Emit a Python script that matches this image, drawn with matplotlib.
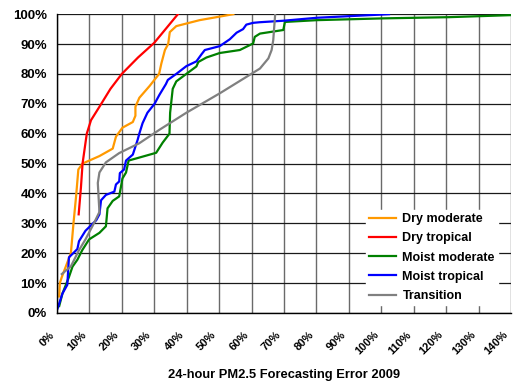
import matplotlib
matplotlib.use("Agg")
import matplotlib.pyplot as plt
from matplotlib.transforms import ScaledTranslation

plt.rcParams["font.family"] = ["Liberation Sans", "DejaVu Sans"]
plt.rcParams["font.weight"] = "bold"

# cumulative share of days (%) vs forecasting error (%)
dry_mod_x = [0.7, 0.9, 1.5, 4.3, 5.1, 5.9, 6.6, 7.9, 13.1, 17.2, 18.2, 20.2, 23.4,
             24.2, 24.2, 25.4, 28.6, 31.5, 32.2, 33.3, 34.3, 34.8, 36.8, 44.0, 54.4]
dry_mod_y = [5.5, 10, 12, 20, 30, 39, 48, 50, 52.5, 55, 59, 62, 63.9,
             66, 69, 72, 76, 80, 83.5, 88, 90, 94, 96, 98, 100]

dry_trop_x = [6.7, 7.4, 7.9, 9.2, 10.5, 13.1, 16.5, 20.0, 25.0, 30.0, 37.3]
dry_trop_y = [33, 42, 50, 60, 64.5, 69, 75, 80, 85.5, 90.4, 100]

moist_mod_x = [0.7, 1.7, 3.7, 4.8, 6.3, 7.8, 9.9, 13.1, 15.1, 15.6, 17.2, 19.2,
               20.2, 21.3, 22.1, 25.4, 30.6, 32.6, 34.7, 34.9, 35.7, 36.8, 39.9,
               43.0, 43.6, 46.1, 50.2, 56.4, 60.5, 61.0, 62.6, 69.8, 70.3, 80.2,
               100.8, 121.0, 140.6]
moist_mod_y = [2.3, 6.5, 12, 15.5, 17.8, 21, 24.6, 26.8, 29, 35, 37.5, 39,
               45, 47, 51, 52, 53.6, 57, 60, 67, 75, 77.5, 80,
               82.5, 84, 85.5, 87, 88, 90.2, 92.4, 93.5, 94.7, 97.4, 98,
               98.6, 99, 99.7]

moist_trop_x = [0.2, 1.7, 3.2, 3.7, 5.3, 6.3, 6.8, 8.8, 12.1, 13.1, 13.6, 15.1,
                17.7, 18.2, 19.2, 19.4, 20.7, 21.3, 23.4, 24.9, 25.4, 26.4, 27.9,
                30.1, 31.6, 33.6, 34.2, 36.8, 39.9, 43.0, 44.6, 45.6, 50.2, 53.3,
                55.4, 57.4, 58.4, 60.5, 62.5, 69.8, 80.2, 102.4]
moist_trop_y = [1.5, 6.5, 9.4, 18.6, 20.3, 21.4, 24, 27.5, 31, 33, 37.7, 39.5,
                40.6, 43, 44, 46.8, 48, 51, 53, 58, 60, 63.5, 67,
                70, 73, 76.6, 78, 80, 82.6, 84.2, 86.6, 88, 89.3, 91.6,
                93.8, 95, 96.5, 97.1, 97.3, 97.8, 98.8, 100]

trans_x = [1.5, 4.3, 6.8, 8.8, 11.4, 13.1, 12.9, 12.6, 13.1, 15.1, 19.2, 25.4,
           31.6, 39.9, 50.2, 62.6, 65.2, 66.2, 66.7, 67.0, 67.3]
trans_y = [13, 15.6, 21, 24.6, 30, 33.8, 37.6, 43.5, 47, 50.4, 53.5, 56.8,
           61.3, 67, 73.5, 81.8, 85.2, 88, 91.3, 95.7, 100]

series = [
    ("Dry moderate", dry_mod_x, dry_mod_y, "#FF9900"),
    ("Dry tropical", dry_trop_x, dry_trop_y, "#FF0000"),
    ("Moist moderate", moist_mod_x, moist_mod_y, "#008000"),
    ("Moist tropical", moist_trop_x, moist_trop_y, "#0000FF"),
    ("Transition", trans_x, trans_y, "#808080"),
]

x_ticks = list(range(0, 150, 10))
y_ticks = list(range(0, 110, 10))

fig = plt.figure(figsize=(5.13, 3.83), dpi=100)
ax = fig.add_axes([0.111, 0.183, 0.885, 0.780])

for x in x_ticks:
    ax.axvline(x, color="#6a6a6a", lw=1.0, zorder=0)
for y in y_ticks:
    ax.axhline(y, color="#1a1a1a", lw=0.9, zorder=0)

for name, xs, ys, col in series:
    ax.plot(xs, ys, color=col, lw=1.6, label=name)

ax.set_xlim(0, 140)
ax.set_ylim(0, 100)
ax.set_xticks(x_ticks)
ax.set_yticks(y_ticks)
ax.set_xticklabels([f"{v}%" for v in x_ticks], rotation=45, ha="right",
                   rotation_mode="anchor", fontsize=8, fontweight="bold")
ax.set_yticklabels([f"{v}%" for v in y_ticks], fontsize=9.5, fontweight="bold")
ax.tick_params(length=0, pad=7)
ax.tick_params(axis="x", pad=12)
shift = ScaledTranslation(-8 / 100, 0, fig.dpi_scale_trans)
for lab in ax.get_xticklabels():
    lab.set_transform(lab.get_transform() + shift)
for s in ["top", "right"]:
    ax.spines[s].set_visible(False)
for s in ["left", "bottom"]:
    ax.spines[s].set_color("black")
    ax.spines[s].set_linewidth(1.0)

ax.set_xlabel("24-hour PM2.5 Forecasting Error 2009", fontsize=9.3,
              fontweight="bold", labelpad=9)

leg = ax.legend(loc="lower right", bbox_to_anchor=(0.985, 0.005), fontsize=9,
                frameon=True, fancybox=False, framealpha=1, edgecolor="white",
                handlelength=2.2, handletextpad=0.5, labelspacing=0.58,
                borderpad=0.25)
for t in leg.get_texts():
    t.set_fontweight("bold")

fig.savefig("out.png", dpi=100, facecolor="white")
